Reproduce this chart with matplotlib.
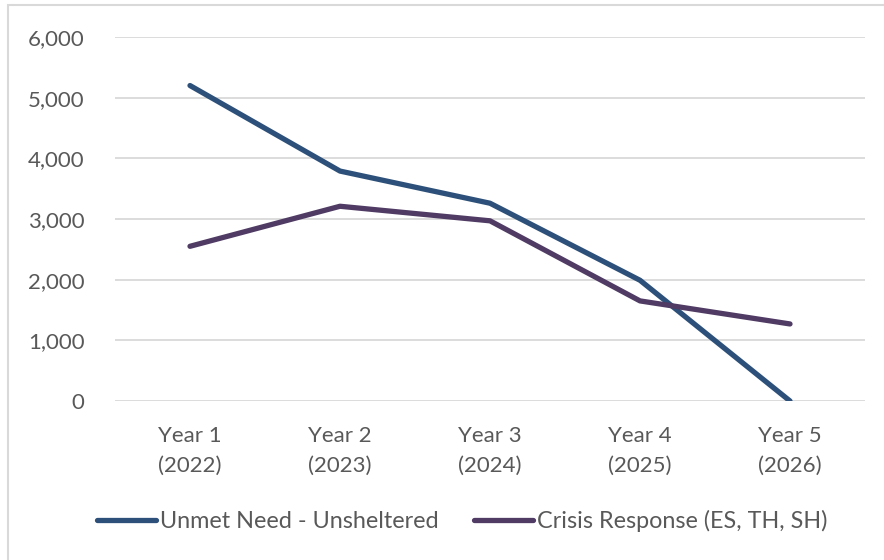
import matplotlib.pyplot as plt
from matplotlib.patches import Rectangle
from matplotlib.ticker import FuncFormatter

# projected households by year
years = ["Year 1\n(2022)", "Year 2\n(2023)", "Year 3\n(2024)", "Year 4\n(2025)", "Year 5\n(2026)"]
unmet_need = [5200, 3790, 3260, 1990, 0]
crisis_response = [2550, 3210, 2970, 1650, 1270]

plt.rcParams["font.family"] = ["Lato", "DejaVu Sans"]

fig = plt.figure(figsize=(8.84, 5.6), dpi=100)
ax = fig.add_axes([115 / 884, 1 - 401 / 560, 750 / 884, 364 / 560])

# light frame around the chart area
fig.patches.append(Rectangle((8 / 884, -0.1), 1.2, 1 - 5 / 560 + 0.1, transform=fig.transFigure,
                             fill=False, edgecolor="#d9d9d9", linewidth=1.5))

x = range(len(years))
ax.plot(x, unmet_need, color="#2c5079", linewidth=3.8, solid_capstyle="round",
        solid_joinstyle="round", label="Unmet Need - Unsheltered")
ax.plot(x, crisis_response, color="#4f3b63", linewidth=3.8, solid_capstyle="round",
        solid_joinstyle="round", label="Crisis Response (ES, TH, SH)")

ax.set_xlim(-0.5, len(years) - 0.5)
ax.set_ylim(0, 6000)
ax.set_yticks(range(0, 6001, 1000))
ax.yaxis.set_major_formatter(FuncFormatter(lambda v, p: f"{int(v):,}"))
ax.set_xticks(list(x))
ax.set_xticklabels(years)

ax.grid(axis="y", color="#d9d9d9", linewidth=1.3)
ax.set_axisbelow(True)
for s in ax.spines.values():
    s.set_visible(False)
ax.tick_params(length=0, labelsize=16, labelcolor="#595959")
ax.tick_params(axis="y", pad=22)
ax.tick_params(axis="x", pad=18)
for lbl in ax.get_xticklabels():
    lbl.set_linespacing(1.62)

leg = fig.legend(loc="center", bbox_to_anchor=(462 / 884, 1 - 521 / 560), ncol=2,
                 frameon=False, fontsize=16.8, handlelength=2.55, handletextpad=0.15,
                 columnspacing=1.5)
for t in leg.get_texts():
    t.set_color("#595959")

fig.savefig("out.png", dpi=100)
